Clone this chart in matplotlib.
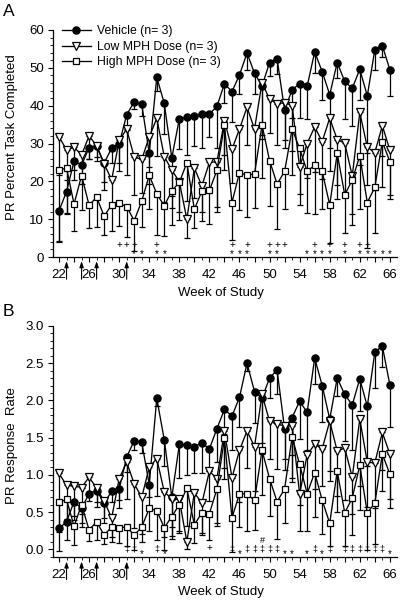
import matplotlib
matplotlib.use('Agg')
import matplotlib.pyplot as plt
from matplotlib.ticker import MultipleLocator, FuncFormatter

plt.rcParams['font.family'] = ['Liberation Sans', 'DejaVu Sans']

weeks = list(range(22, 67))
labels = ['Vehicle (n= 3)', 'Low MPH Dose (n= 3)', 'High MPH Dose (n= 3)']
arrow_weeks = [23, 25, 27, 31]

# Panel A: PR percent task completed (mean, downward SEM)
veh_a = [12.2, 17.3, 25.3, 24.3, 28.9, 29.3, 24.8, 28.8, 29.9, 37.6, 41.0, 40.4, 27.4, 47.5, 40.6,
         26.2, 36.5, 37.0, 37.3, 37.8, 37.8, 39.8, 45.8, 43.7, 48.1, 53.9, 48.6, 45.2, 51.4, 52.4,
         38.9, 44.2, 45.8, 45.1, 54.2, 49.0, 42.9, 51.4, 46.4, 44.6, 49.6, 42.6, 54.8, 55.9, 49.5]
veh_a_err = [8, 6, 5, 5, 3, 3, 5, 4, 5, 4, 2, 3, 8, 3.5, 8,
             10, 8, 10, 8, 9, 6, 11, 5, 8, 5, 4.5, 5.5, 13, 3.5, 4,
             10, 7.5, 9, 8.5, 5.5, 7.5, 14, 4, 10, 10, 8, 15, 5.5, 3, 7]
low_a = [31.8, 28.3, 29.0, 27.0, 32.0, 29.4, 24.6, 20.4, 30.8, 33.8, 26.4, 25.8, 31.7, 36.7, 26.5,
         23.0, 19.9, 10.0, 23.5, 18.8, 25.0, 25.2, 36.0, 28.5, 33.8, 39.6, 33.8, 46.1, 41.7, 40.5,
         40.8, 40.0, 23.8, 30.0, 34.4, 30.5, 36.7, 31.0, 30.1, 21.4, 38.2, 29.0, 27.6, 34.7, 28.3]
low_a_err = [10, 8, 6, 5, 6, 4, 7, 6, 8, 12, 10, 9, 8, 10, 12,
             10, 8, 5, 8, 7, 8, 12, 9, 9, 12, 10, 12, 15, 9, 11,
             10, 12, 10, 9, 12, 10, 14, 12, 13, 10, 14, 10, 10, 8, 12]
high_a = [23.0, 23.5, 14.0, 21.5, 13.7, 15.8, 10.8, 13.8, 14.2, 13.3, 9.6, 14.8, 21.6, 16.7, 13.5,
          17.5, 19.7, 24.9, 12.6, 17.4, 17.6, 22.9, 34.9, 14.4, 22.3, 21.6, 22.0, 34.9, 25.5, 19.3,
          22.6, 33.8, 28.7, 22.6, 24.3, 22.6, 13.8, 27.4, 16.4, 20.4, 26.7, 14.4, 18.4, 30.5, 25.2]
high_a_err = [19, 12, 7, 9, 6, 8, 5, 7, 6, 8, 8, 7, 9, 11, 8,
              9, 10, 10, 5, 8, 9, 11, 12, 10, 10, 11, 9, 14, 12, 12,
              10, 12, 12, 11, 13, 10, 10, 12, 10, 12, 14, 12, 12, 12, 10]

# Panel B: PR response rate
veh_b = [0.28, 0.37, 0.64, 0.55, 0.75, 0.79, 0.62, 0.78, 0.81, 1.24, 1.46, 1.44, 0.87, 2.03, 1.47,
         0.70, 1.41, 1.40, 1.38, 1.43, 1.35, 1.62, 1.88, 1.79, 2.04, 2.50, 2.12, 2.03, 2.30, 2.41,
         1.62, 1.77, 1.99, 1.84, 2.57, 2.20, 1.75, 2.30, 2.08, 1.94, 2.29, 1.92, 2.65, 2.73, 2.21]
veh_b_err = [0.3, 0.25, 0.25, 0.2, 0.1, 0.15, 0.2, 0.15, 0.15, 0.2, 0.12, 0.15, 0.3, 0.1, 0.35,
             0.4, 0.45, 0.4, 0.35, 0.4, 0.3, 0.45, 0.33, 0.45, 0.4, 0.11, 0.42, 0.6, 0.27, 0.32,
             0.4, 0.5, 0.51, 0.5, 0.35, 0.49, 0.7, 0.24, 0.62, 0.6, 0.43, 0.8, 0.48, 0.28, 0.57]
low_b = [1.02, 0.86, 0.85, 0.83, 0.97, 0.82, 0.65, 0.42, 0.95, 1.17, 0.88, 0.70, 1.10, 1.22, 0.77,
         0.68, 0.67, 0.10, 0.76, 0.62, 1.05, 0.95, 1.59, 0.96, 1.33, 1.59, 1.38, 2.08, 1.72, 1.68,
         1.66, 1.66, 0.74, 1.27, 1.41, 1.35, 1.72, 1.32, 1.36, 0.97, 1.75, 1.17, 1.16, 1.57, 1.28]
low_b_err = [0.75, 0.45, 0.4, 0.35, 0.25, 0.25, 0.3, 0.25, 0.4, 0.5, 0.6, 0.5, 0.4, 0.5, 0.6,
             0.5, 0.45, 0.1, 0.4, 0.4, 0.4, 0.6, 0.5, 0.55, 0.7, 0.5, 0.6, 0.8, 0.5, 0.6,
             0.6, 0.7, 0.5, 0.5, 0.6, 0.5, 0.8, 0.6, 0.7, 0.5, 0.9, 0.6, 0.6, 0.5, 0.6]
high_b = [0.63, 0.67, 0.31, 0.60, 0.26, 0.37, 0.19, 0.30, 0.29, 0.30, 0.19, 0.30, 0.55, 0.52, 0.29,
          0.44, 0.60, 0.82, 0.33, 0.49, 0.48, 0.81, 1.49, 0.42, 0.75, 0.74, 0.66, 1.33, 0.95, 0.64,
          0.81, 1.51, 1.14, 0.75, 1.03, 0.66, 0.35, 1.05, 0.49, 0.69, 1.13, 0.49, 0.62, 1.28, 1.01]
high_b_err = [0.4, 0.3, 0.25, 0.3, 0.15, 0.25, 0.12, 0.2, 0.2, 0.25, 0.2, 0.2, 0.3, 0.4, 0.3,
              0.3, 0.35, 0.5, 0.25, 0.3, 0.35, 0.5, 0.55, 0.45, 0.45, 0.5, 0.4, 0.6, 0.5, 0.5,
              0.45, 0.6, 0.55, 0.5, 0.6, 0.45, 0.3, 0.55, 0.45, 0.5, 0.6, 0.5, 0.55, 0.5, 0.45]

# significance marks
plus_a = [30, 31, 32, 35, 45, 47, 50, 51, 52, 56, 58, 60, 62, 63]
star_a = [32, 33, 35, 36, 45, 46, 47, 50, 51, 55, 56, 57, 58, 60, 62, 63, 64, 65, 66]
dag_b = [31, 32, 35, 45, 47, 48, 49, 50, 51, 56, 58, 60, 61, 62, 63, 64, 65]
star_b = [33, 36, 46, 52, 53, 55, 57, 66]
plus_b = [42]
hash_b = [49]

styles = [dict(marker='o', mfc='black', ms=5.2),
          dict(marker='v', mfc='white', ms=5.8),
          dict(marker='s', mfc='white', ms=4.7)]


def draw(ax, series, errs):
    handles = []
    for i in [2, 1, 0]:
        zeros = [0] * len(weeks)
        ax.errorbar(weeks, series[i], yerr=[errs[i], zeros], fmt='none', ecolor='black',
                    elinewidth=0.9, capsize=2.2, capthick=0.9, zorder=2)
    for i in [2, 1, 0]:
        h, = ax.plot(weeks, series[i], color='black', lw=0.95, mec='black', mew=0.9,
                     label=labels[i], zorder=3 + i * 0.1, **styles[i])
        handles.append(h)
    for side in ['top', 'right']:
        ax.spines[side].set_visible(False)
    ax.spines['left'].set_linewidth(0.9)
    ax.spines['bottom'].set_linewidth(0.9)
    ax.set_xlim(21.2, 66.95)
    ax.xaxis.set_major_locator(MultipleLocator(2))
    ax.xaxis.set_minor_locator(MultipleLocator(1))
    ax.xaxis.set_major_formatter(FuncFormatter(lambda v, p: '%d' % v if int(round(v)) % 4 == 2 else ''))
    ax.tick_params(axis='both', which='major', direction='out', length=3.5, width=0.8, labelsize=9.5, pad=3)
    ax.tick_params(axis='both', which='minor', direction='out', length=2, width=0.6)
    ax.tick_params(axis='x', which='major', pad=5)
    for w in arrow_weeks:
        ax.annotate('', xy=(w, 0), xycoords=('data', 'axes fraction'), xytext=(0, -16),
                    textcoords='offset points',
                    arrowprops=dict(arrowstyle='-|>,head_length=0.35,head_width=0.12', lw=0.8,
                                    color='black', shrinkA=0, shrinkB=3), annotation_clip=False)
    return handles[::-1]


fig = plt.figure(figsize=(4, 6.02), dpi=100)
axA = fig.add_axes([53 / 400, 1 - 257 / 602, 344 / 400, 227 / 602])
axB = fig.add_axes([53 / 400, 1 - 557.3 / 602, 344 / 400, 231.3 / 602])

hA = draw(axA, [veh_a, low_a, high_a], [veh_a_err, low_a_err, high_a_err])
axA.set_ylim(0, 60)
axA.yaxis.set_major_locator(MultipleLocator(10))
axA.yaxis.set_minor_locator(MultipleLocator(2))
for w in plus_a:
    axA.text(w, 3.3, '+', ha='center', va='center', fontsize=7)
for w in star_a:
    axA.text(w, 0.8, '*', ha='center', va='center', fontsize=7)
axA.legend(handles=hA, loc='upper left', bbox_to_anchor=(0.025, 1.02), frameon=False,
           fontsize=8.8, handlelength=2.4, handletextpad=0.5, labelspacing=0.28,
           borderaxespad=0, borderpad=0)

draw(axB, [veh_b, low_b, high_b], [veh_b_err, low_b_err, high_b_err])
axB.set_ylim(-0.107, 3.0)
axB.yaxis.set_major_locator(MultipleLocator(0.5))
axB.yaxis.set_minor_locator(MultipleLocator(0.1))
axB.yaxis.set_major_formatter(FuncFormatter(lambda v, p: '%.1f' % v))
for w in dag_b:
    axB.text(w, 0.0, '\u2021', ha='center', va='center', fontsize=6.5)
for w in star_b:
    axB.text(w, -0.06, '*', ha='center', va='center', fontsize=7)
for w in plus_b:
    axB.text(w, 0.02, '+', ha='center', va='center', fontsize=7)
for w in hash_b:
    axB.text(w, 0.12, '#', ha='center', va='center', fontsize=6.5)

fig.text(12 / 400, 1 - 137 / 602, 'PR Percent Task Completed', rotation=90, ha='center', va='center', fontsize=9.5)
fig.text(12 / 400, 1 - 446 / 602, 'PR Response  Rate', rotation=90, ha='center', va='center', fontsize=9.5)
fig.text(221 / 400, 1 - 293 / 602, 'Week of Study', ha='center', va='center', fontsize=9.5)
fig.text(221 / 400, 1 - 592 / 602, 'Week of Study', ha='center', va='center', fontsize=9.5)
fig.text(3 / 400, 1 - 4 / 602, 'A', ha='left', va='top', fontsize=12.5)
fig.text(3 / 400, 1 - 304 / 602, 'B', ha='left', va='top', fontsize=12.5)

fig.savefig('out.png', dpi=100)
